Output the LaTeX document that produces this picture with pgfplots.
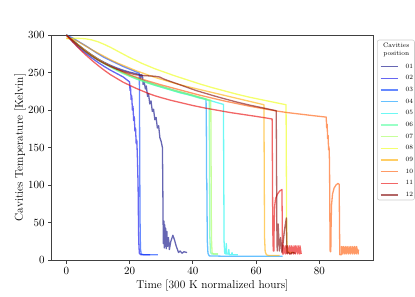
\documentclass[border=0pt]{standalone}
\usepackage{pgfplots}
\pgfplotsset{compat=1.18}
\definecolor{j01}{rgb}{0,0,0.5}
\definecolor{j02}{rgb}{0,0,0.913}
\definecolor{j03}{rgb}{0,0.227,1}
\definecolor{j04}{rgb}{0,0.591,1}
\definecolor{j05}{rgb}{0.044,0.955,0.924}
\definecolor{j06}{rgb}{0.337,1,0.631}
\definecolor{j07}{rgb}{0.631,1,0.336}
\definecolor{j08}{rgb}{0.924,1,0.044}
\definecolor{j09}{rgb}{1,0.677,0}
\definecolor{j10}{rgb}{1,0.34,0}
\definecolor{j11}{rgb}{0.913,0,0}
\definecolor{j12}{rgb}{0.5,0,0}
\pgfplotsset{ser/.style={line width=1.3pt, draw opacity=0.6, no markers, line join=round}}
\begin{document}
\begin{tikzpicture}
\useasboundingbox (-51.7pt,-37pt) rectangle (363.3pt,260pt);
\begin{axis}[
  at={(0pt,0pt)}, anchor=south west,
  scale only axis, width=321.3pt, height=225pt,
  xmin=-4.62, xmax=97.0, ymin=0, ymax=300,
  xtick={0,20,40,60,80}, ytick={0,50,100,150,200,250,300},
  tick align=outside, tick pos=left, major tick length=3.5pt,
  axis line style={black!75, line width=0.8pt},
  every tick/.style={black!75, line width=0.8pt},
  tick label style={font=\fontsize{11.4}{13.7}\selectfont},
  label style={font=\fontsize{11.4}{13.7}\selectfont},
  xlabel={Time [300 K normalized hours]},
  ylabel={Cavities Temperature [Kelvin]},
  x label style={at={(axis description cs:0.5,-0.1156)}, anchor=center},
  y label style={at={(axis description cs:-0.0987,0.5)}, anchor=center, rotate=0},
  legend style={at={(1.0218,0.885)}, anchor=north west, draw=none, fill=none,
    inner sep=0pt, outer sep=0pt, row sep=0pt, column sep=6.6pt,
    font=\fontsize{6.5}{7}\selectfont,
    nodes={inner sep=0pt, minimum height=11.67pt, anchor=center}},
  legend image code/.code={\draw[#1, line width=1.3pt, draw opacity=0.6] (0pt,0pt) -- (17.7pt,0pt);},
  legend cell align=left,
]
\addplot[ser, j01] coordinates {(0,300)(2,293)(4,286)(6,279.5)(8,273.5)(10,268)(12,263.5)(14,259.5)(16,256)(18,253)(20,250.5)(22,248.5)(23.3,247)(23.5,241)(23.7,247)(24.1,246)(24.3,234)(24.6,239)(25,228)(25.3,232)(25.7,218)(26,222)(26.4,208)(26.8,212)(27.2,198)(27.6,201)(28,187)(28.4,190)(28.8,176)(29.2,179)(29.6,163)(30,158)(30.4,150)(30.5,110)(30.6,57)(30.7,22)(30.85,52)(31,16)(31.15,47)(31.3,18)(31.45,42)(31.6,15)(31.8,38)(32,18)(32.3,30)(32.6,14)(33,24)(33.7,33)(34.2,27)(34.8,18)(35.5,10)(36,12)(36.6,9)(37.2,11)(38.2,10)};
\addlegendentry{01}
\addplot[ser, j02] coordinates {(0,300)(2,291)(4,283)(6,276)(8,269.5)(10,263.5)(12,258)(14,253)(16,248.5)(18,244)(20,237.5)(20.15,226)(20.3,231)(20.5,214)(20.7,219)(20.9,200)(21.1,205)(21.3,186)(21.5,191)(21.7,172)(21.9,176)(22.1,155)(22.3,160)(22.5,135)(22.7,100)(22.8,60)(22.9,25)(23.1,9)(23.6,7)(26.5,7)};
\addlegendentry{02}
\addplot[ser, j03] coordinates {(0,300)(2,296)(4,291)(6,286)(8,280.5)(10,275)(12,270)(14,266)(16,262)(18,258)(20,254.5)(22,251)(23.1,249)(23.2,160)(23.3,60)(23.45,15)(23.7,8)(24.5,7)(29,7)};
\addlegendentry{03}
\addplot[ser, j04] coordinates {(0,300)(2,293)(4,286)(6,279.5)(8,273.5)(10,268)(12,263)(14,258.5)(16,254)(18,250)(20,246.5)(22,243)(24,240)(26,237)(28,234)(30,231.5)(32,229)(34,226.5)(36,224)(38,222)(40,219.5)(42,217)(44.2,214.5)(44.3,175)(44.35,110)(44.45,103)(44.5,72)(44.6,25)(44.8,9)(45.2,5.5)(50,5)(55,5)(60,5)(65,5)(68.4,5)};
\addlegendentry{04}
\addplot[ser, j05] coordinates {(0,300)(2,293)(4,286)(6,279)(8,273)(10,267.5)(12,262.5)(14,258)(16,253.5)(18,249.5)(20,245.5)(22,242)(24,239)(26,236)(28,233)(30,230.5)(32,228)(34,225.5)(36,223)(38,221)(40,219)(42,216.5)(44,214.5)(46,212)(48,209.5)(49.7,207.5)(49.8,110)(49.9,25)(50.1,9)(50.5,8)(50.6,22)(50.75,8)(51.3,8)(51.4,14)(51.55,7)(52.3,7)(52.4,10)(52.55,7)(54.3,7)};
\addlegendentry{05}
\addplot[ser, j06] coordinates {(0,300)(2,292)(4,285)(6,278)(8,272)(10,266.5)(12,261.5)(14,257)(16,252.5)(18,248.5)(20,245)(22,241.5)(24,238.5)(26,235.5)(28,233)(30,230.5)(32,228)(34,225.5)(36,223)(38,221)(40,218.5)(42,216)(44,214)(45.2,212.5)(45.3,120)(45.4,30)(45.6,10)(46,8)(47.9,8)};
\addlegendentry{06}
\addplot[ser, j07] coordinates {(0,300)(2,292.5)(4,285.5)(6,279)(8,273)(10,267.5)(12,262.5)(14,258)(16,253.5)(18,249.5)(20,246)(22,242.5)(24,239.5)(26,236.5)(28,234)(30,231.5)(32,229)(34,226.5)(36,224.5)(38,222)(40,220)(42,217.5)(44,215)(45.7,213)(45.8,120)(45.9,30)(46.1,10)(46.5,8)(48,8)};
\addlegendentry{07}
\addplot[ser, j08] coordinates {(0,295)(2,295.5)(4,295.5)(6,295)(8,293.5)(10,291)(12,287.5)(14,283.5)(16,279)(18,274.5)(20,270)(22,266)(24,262)(26,258.5)(28,255)(30,252)(34,246)(38,240.5)(42,235)(46,230)(50,225.5)(54,221)(58,217)(62,213.5)(66,210)(69.5,207)(69.6,120)(69.7,30)(69.9,12)(70.5,10)(72,10)};
\addlegendentry{08}
\addplot[ser, j09] coordinates {(0,296)(2,294.5)(4,290.5)(6,285.5)(8,280.5)(10,276)(12,271.5)(14,267)(16,263)(18,259.5)(20,256)(22,252.5)(24,249.5)(26,246.5)(28,243.5)(30,241)(34,236)(38,231.5)(42,227.5)(46,223.5)(50,219.5)(54,215.5)(58,211.5)(62.5,207)(62.6,120)(62.7,30)(62.9,11)(63.3,7)(64,6)(67.5,6)};
\addlegendentry{09}
\addplot[ser, j10] coordinates {(0,300)(2,293)(4,286)(6,279.5)(8,273.5)(10,268)(12,263)(14,258.5)(16,254.5)(18,250.5)(20,247)(22,244)(24,241)(26,238.5)(28,236)(30,233.5)(34,229)(38,224.5)(42,220)(46,216)(50,212)(54,208.5)(58,205)(62,202)(66,199)(70,196.5)(74,194.5)(78,192.5)(82.2,190.5)(82.35,176)(82.5,181)(82.65,162)(82.8,166)(82.95,147)(83.1,151)(83.25,130)(83.35,60)(83.45,11)(83.65,11)(83.75,45)(83.9,74)(84.2,88)(84.7,96)(85.3,100)(85.9,102)(86.3,101)(86.4,50)(86.5,7)(87,7)(87.05,18)(87.5,8)(87.6,18)(88.1,8)(88.2,18)(88.7,8)(88.8,18)(89.3,8)(89.4,18)(89.9,8)(90,18)(90.5,8)(90.6,18)(91.1,8)(91.2,18)(91.7,8)(91.8,18)(92.3,8)(92.4,14)};
\addlegendentry{10}
\addplot[ser, j11] coordinates {(0,300)(2,291)(4,282)(6,274)(8,266.5)(10,259.5)(12,253)(14,247)(16,242)(18,237)(20,233)(22,229)(24,225.5)(26,222)(28,219)(30,216.5)(33,213)(36,210)(40,206)(44,202.5)(48,199.5)(52,196.5)(56,194)(60,191.5)(63,189.5)(65.1,188)(65.2,120)(65.3,40)(65.45,12)(65.65,12)(65.75,50)(65.9,72)(66.2,82)(66.8,88)(67.5,92)(68.2,94)(68.3,50)(68.4,8)(68.7,8)(68.75,19)(69.3,8)(69.4,19)(69.9,8)(70,19)(70.6,8)(70.7,19)(71.2,8)(71.3,19)(71.9,8)(72,19)(72.5,8)(72.6,19)(73.2,8)(73.3,19)(73.8,8)(73.9,19)(74.3,8)};
\addlegendentry{11}
\addplot[ser, j12] coordinates {(0,300)(2,292.5)(4,285)(6,278)(8,272)(10,266.5)(12,262)(14,258)(16,254.5)(18,251.5)(20,249)(22,247)(24,246)(26,245.5)(28,245)(29.5,244)(31,241)(33,238)(35,235)(37,232)(39,229)(41,226)(43,223.5)(45,221)(47,218.5)(50,215)(54,210.5)(58,206.5)(62,203)(66.4,199)(66.5,120)(66.6,40)(66.7,12)(67,48)(67.2,30)(67.4,12)(67.8,30)(68.2,10)(68.6,24)(69,40)(69.6,56)(69.7,30)(69.8,9)(70.2,10)(70.8,8)(71.5,10)(72.5,9)};
\addlegendentry{12}
\end{axis}
\draw[black!20, line width=0.6pt, rounded corners=2pt] (325.6pt,60pt) rectangle (362.8pt,220pt);
\node[font=\fontsize{6.5}{8.6}\selectfont, align=center] at (344.5pt,210pt) {Cavities\\position};
\end{tikzpicture}
\end{document}
